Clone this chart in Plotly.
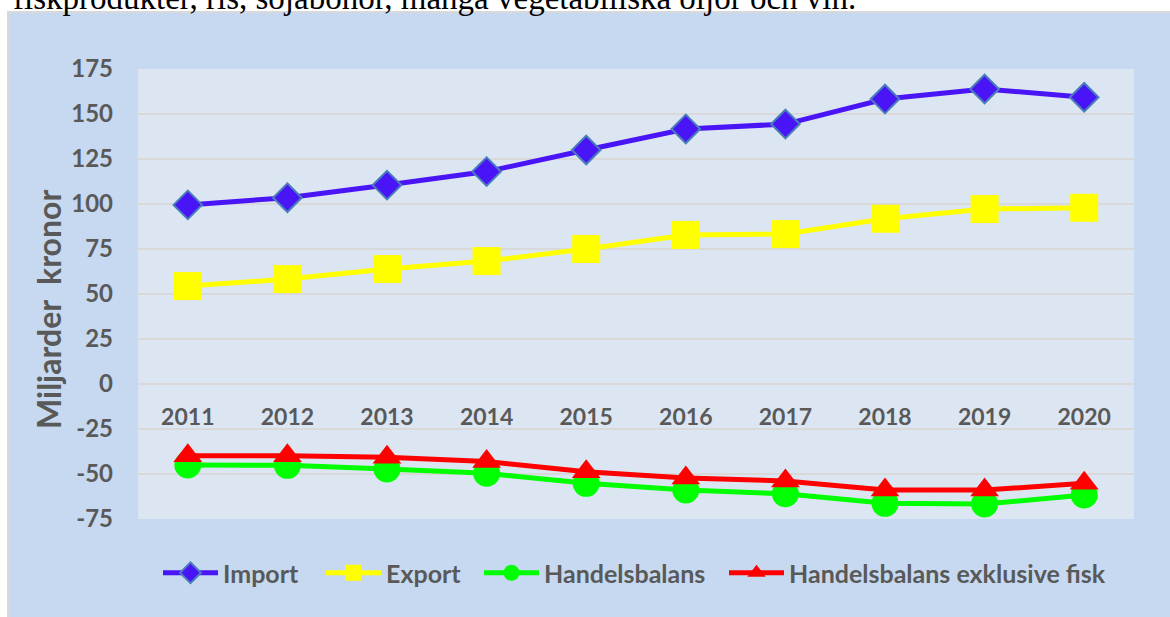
import plotly.graph_objects as go

years = ["2011", "2012", "2013", "2014", "2015", "2016", "2017", "2018", "2019", "2020"]
importv = [99.5, 103.5, 110.5, 118, 130, 141.7, 144.4, 158.3, 163.9, 159.3]
exportv = [54.4, 58.3, 63.9, 68.3, 75, 82.8, 83.3, 91.8, 97.2, 97.9]
handel = [-45, -45.2, -47.2, -49.6, -55.2, -58.9, -61, -66.3, -66.7, -61.7]
handel_ex_fisk = [-39.8, -39.8, -40.7, -43.1, -48.7, -52.2, -53.9, -58.9, -58.9, -55.2]
ytick_vals = [-75, -50, -25, 0, 25, 50, 75, 100, 125, 150, 175]
ytick_text = ["-75", "-50", "-25", "0", "25", "50", "75", "100", "125", "150", "175"]

W, H = 1170, 617
L, R, T, B = 138, 36, 69, 98
PW, PH = W - L - R, H - T - B

def px(x):
    return (x - L) / PW

def py(y):
    return (H - B - y) / PH

GRAY = "#595959"
FONT = "Lato"

fig = go.Figure()
fig.add_trace(go.Scatter(x=years, y=importv, name="Import", mode="lines+markers",
                         legend="legend",
                         line=dict(color="#4915F7", width=5),
                         marker=dict(symbol="diamond", size=22, color="#4915F7",
                                     line=dict(color="#4A7EBB", width=2))))
fig.add_trace(go.Scatter(x=years, y=exportv, name="Export", mode="lines+markers",
                         legend="legend2",
                         line=dict(color="#FFFF00", width=5),
                         marker=dict(symbol="square", size=28, color="#FFFF00")))
fig.add_trace(go.Scatter(x=years, y=handel, name="Handelsbalans", mode="lines+markers",
                         legend="legend3",
                         line=dict(color="#00FF00", width=5),
                         marker=dict(symbol="circle", size=27, color="#00FF00")))
fig.add_trace(go.Scatter(x=years, y=handel_ex_fisk, name="Handelsbalans exklusive fisk",
                         mode="lines+markers", legend="legend4",
                         line=dict(color="#FF0000", width=5),
                         marker=dict(symbol="triangle-up", size=25, color="#FF0000")))

def leg(xpix):
    return dict(orientation="h", x=px(xpix), xanchor="left", y=py(573), yanchor="middle",
                font=dict(family=FONT, size=25, color=GRAY, weight="bold"),
                bgcolor="rgba(0,0,0,0)", itemwidth=55, borderwidth=0)

fig.update_layout(
    width=W, height=H,
    margin=dict(l=L, r=R, t=T, b=B),
    paper_bgcolor="white",
    plot_bgcolor="rgba(0,0,0,0)",
    font=dict(family=FONT, color=GRAY, size=23),
    showlegend=True,
    legend=leg(158),
    legend2=leg(321),
    legend3=leg(479),
    legend4=leg(724),
    xaxis=dict(type="category", range=[-0.5, 9.5], showgrid=False, zeroline=False,
               showline=False, anchor="free", position=(0 + 75) / 250,
               ticks="", ticklabelstandoff=17,
               tickfont=dict(family=FONT, size=23, color=GRAY, weight="bold")),
    yaxis=dict(range=[-75, 175], tickvals=ytick_vals, ticktext=ytick_text, showgrid=True,
               gridcolor="#D9D9D9", gridwidth=2, zeroline=False, showline=False,
               ticks="", ticklabelstandoff=24,
               tickfont=dict(family=FONT, size=24, color=GRAY, weight="bold")),
    shapes=[
        dict(type="rect", xref="paper", yref="paper", layer="below",
             x0=px(8), x1=px(1180), y0=py(630), y1=py(12),
             fillcolor="#C6D9F0", line=dict(color="#D9D9D9", width=2)),
        dict(type="rect", xref="paper", yref="paper", layer="below",
             x0=0, x1=1, y0=0, y1=1, fillcolor="#DCE6F2", line=dict(width=0)),
    ],
    annotations=[
        dict(text="Miljarder  kronor", xref="paper", yref="paper", x=px(48), y=py(310),
             xanchor="center", yanchor="middle", textangle=-90, showarrow=False,
             font=dict(family=FONT, size=32, color=GRAY, weight="bold")),
        dict(text="fiskprodukter, ris, sojabönor, många vegetabiliska oljor och vin.",
             xref="paper", yref="paper", x=px(11), y=py(17.5), xanchor="left", yanchor="bottom",
             showarrow=False, font=dict(family="Liberation Serif", size=33, color="black")),
    ],
)

fig.write_html("out.html", config={"displayModeBar": False},
               post_script="document.body.style.margin='0';document.body.style.padding='0';")
